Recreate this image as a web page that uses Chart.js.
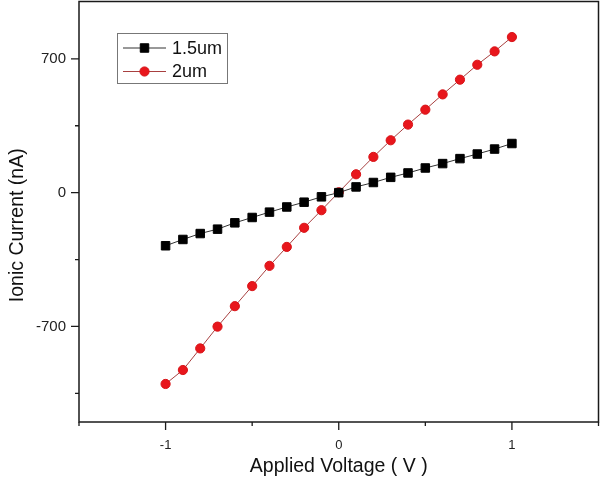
<!DOCTYPE html>
<html><head><meta charset="utf-8">
<script src="https://cdn.jsdelivr.net/npm/chart.js@4/dist/chart.umd.min.js"></script>
<style>html,body{margin:0;padding:0;background:#fff}#wrap{width:600px;height:481px}</style>
</head><body><div id="wrap"><canvas id="c" width="600" height="481"></canvas></div>
<script>
const voltages = [-1,-0.9,-0.8,-0.7,-0.6,-0.5,-0.4,-0.3,-0.2,-0.1,0,0.1,0.2,0.3,0.4,0.5,0.6,0.7,0.8,0.9,1];
const current15 = [-278,-245,-214,-191,-158,-130,-102,-75,-50,-22,0,30,53,80,103,129,152,178,202,228,257];
const current2 = [-1001,-928,-815,-701,-594,-489,-383,-284,-184,-92,2,96,187,274,356,434,514,591,669,739,814];
const seriesLabels = ['1.5um','2um'];
const yMajorTicks = [-700,0,700];
const yMinorTicks = [-1050,-350,350];
const xMajorTicks = [-1,0,1];
const xMinorTicks = [-1.5,-0.5,0.5,1.5];

const FONT = "'Liberation Sans', Arial, sans-serif";

const toPts = (xs, ys) => xs.map((x, i) => ({x: x, y: ys[i]}));

const framePlugin = {
  id: 'frame',
  afterLayout(chart) {
    // shift the y-axis title's centring box down a little (title sits lower in the reference)
    chart.scales.y.top += 27;
  },
  afterDatasetsDraw(chart) {
    const {ctx, chartArea: a, scales} = chart;
    ctx.save();
    ctx.strokeStyle = '#1a1a1a';
    ctx.lineWidth = 1.5;
    ctx.strokeRect(a.left, a.top, a.right - a.left, a.bottom - a.top);
    ctx.lineWidth = 1.3;
    ctx.beginPath();
    yMajorTicks.forEach(v => { const p = scales.y.getPixelForValue(v); ctx.moveTo(a.left - 8, p); ctx.lineTo(a.left, p); });
    yMinorTicks.forEach(v => { const p = scales.y.getPixelForValue(v); ctx.moveTo(a.left - 4, p); ctx.lineTo(a.left, p); });
    xMajorTicks.forEach(v => { const p = scales.x.getPixelForValue(v); ctx.moveTo(p, a.bottom); ctx.lineTo(p, a.bottom + 8); });
    xMinorTicks.forEach(v => { const p = scales.x.getPixelForValue(v); ctx.moveTo(p, a.bottom); ctx.lineTo(p, a.bottom + 4); });
    ctx.stroke();
    ctx.restore();
  }
};

const legendPlugin = {
  id: 'boxLegend',
  afterDraw(chart) {
    const ctx = chart.ctx;
    const bx = 117, by = 33, bw = 110, bh = 50;
    ctx.save();
    ctx.fillStyle = '#fff';
    ctx.fillRect(bx, by, bw, bh);
    ctx.strokeStyle = '#777';
    ctx.lineWidth = 1;
    ctx.strokeRect(bx + 0.5, by + 0.5, bw, bh);
    chart.data.datasets.forEach((ds, i) => {
      const y = by + 15 + i * 23.5;
      ctx.strokeStyle = ds.borderColor;
      ctx.lineWidth = 1;
      ctx.beginPath(); ctx.moveTo(bx + 6, y); ctx.lineTo(bx + 49, y); ctx.stroke();
      ctx.fillStyle = ds.pointBackgroundColor;
      ctx.strokeStyle = ds.pointBorderColor;
      ctx.lineWidth = ds.pointBorderWidth;
      Chart.helpers.drawPoint(ctx, {pointStyle: ds.pointStyle, radius: ds.pointRadius, borderWidth: ds.pointBorderWidth, rotation: 0}, bx + 27.5, y);
      ctx.fillStyle = '#111';
      ctx.font = '18px ' + FONT;
      ctx.textBaseline = 'middle';
      ctx.textAlign = 'left';
      ctx.fillText(ds.label, bx + 55, y + 1);
    });
    ctx.restore();
  }
};

new Chart(document.getElementById('c'), {
  type: 'scatter',
  data: {
    datasets: [
      {label: seriesLabels[0], data: toPts(voltages, current15), showLine: true,
       borderColor: '#333', borderWidth: 1, pointStyle: 'rect', pointRadius: 6,
       pointBackgroundColor: '#000', pointBorderColor: '#000', pointBorderWidth: 1},
      {label: seriesLabels[1], data: toPts(voltages, current2), showLine: true,
       borderColor: '#a84040', borderWidth: 1, pointStyle: 'circle', pointRadius: 4.6,
       pointBackgroundColor: '#e8161c', pointBorderColor: '#d81418', pointBorderWidth: 1}
    ]
  },
  options: {
    responsive: false,
    animation: false,
    devicePixelRatio: 1,
    events: [],
    layout: {autoPadding: false, padding: {top: 1.5, right: 1.5, left: 0, bottom: 0}},
    plugins: {legend: {display: false}, tooltip: {enabled: false}},
    scales: {
      x: {
        type: 'linear', min: -1.5, max: 1.5,
        afterBuildTicks: s => { s.ticks = xMajorTicks.map(v => ({value: v})); },
        afterFit: s => { s.height = 59; s.paddingLeft = 0; s.paddingRight = 0; },
        ticks: {font: {family: FONT, size: 13}, color: '#222', padding: 8, maxRotation: 0,
                callback: v => String(v)},
        grid: {display: true, drawOnChartArea: false, drawTicks: true, tickLength: 8, tickColor: 'rgba(0,0,0,0)'},
        border: {display: false},
        title: {display: true, text: 'Applied Voltage ( V )', font: {family: FONT, size: 19.5}, color: '#111', padding: {top: 3, bottom: 3}}
      },
      y: {
        type: 'linear', min: -1200, max: 1000,
        afterBuildTicks: s => { s.ticks = yMajorTicks.map(v => ({value: v})); },
        afterFit: s => { s.width = 79; s.paddingTop = 0; s.paddingBottom = 0; },
        ticks: {font: {family: FONT, size: 15}, color: '#222', padding: 5,
                callback: v => String(v)},
        grid: {display: true, drawOnChartArea: false, drawTicks: true, tickLength: 8, tickColor: 'rgba(0,0,0,0)'},
        border: {display: false},
        title: {display: true, text: 'Ionic Current (nA)', font: {family: FONT, size: 19.5}, color: '#111', padding: {top: 6, bottom: 6}}
      }
    }
  },
  plugins: [framePlugin, legendPlugin]
});
</script>
</body></html>
